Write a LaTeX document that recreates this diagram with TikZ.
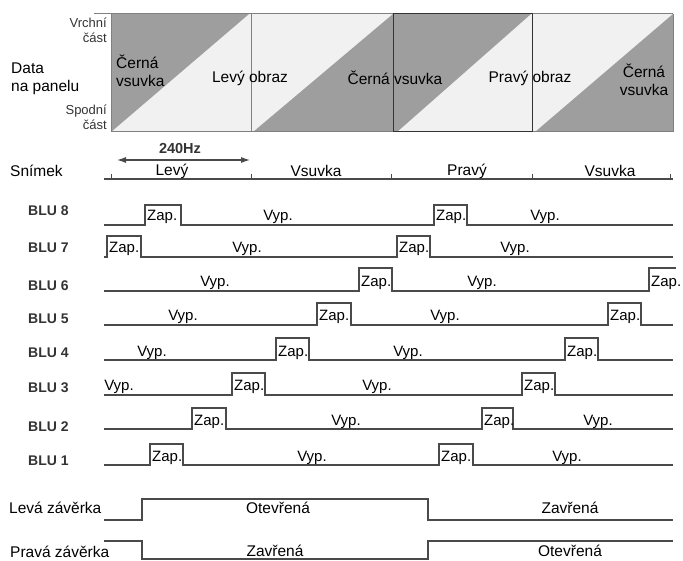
\documentclass[tikz,border=0pt]{standalone}
\usepackage{fontspec}
\setmainfont{Liberation Sans}
\usetikzlibrary{arrows.meta}
\definecolor{darkpanel}{HTML}{9E9E9E}
\definecolor{lightpanel}{HTML}{F1F1F1}
\definecolor{wavecol}{HTML}{4A4A4A}
\begin{document}
\begin{tikzpicture}[x=1pt,y=-1pt,
  wave/.style={draw=wavecol, line width=1.2pt, line join=miter},
  pline/.style={draw=black!50, line width=1pt},
  lbl/.style={font=\fontsize{15.5}{18}\selectfont, inner sep=0pt},
  small/.style={font=\fontsize{13}{15}\selectfont, inner sep=0pt, align=right, text=black!80},
  blu/.style={font=\fontsize{14}{16}\selectfont\bfseries, text=black!80, inner sep=0pt, anchor=west},
  zap/.style={font=\fontsize{15}{17}\selectfont, inner sep=0pt, anchor=base west},
  vyp/.style={font=\fontsize{15}{17}\selectfont, inner sep=0pt, anchor=base}
]
\useasboundingbox (0,0) rectangle (683,561);
% ---------- panel ----------
\fill[lightpanel] (111,14) rectangle (673,132);
\fill[darkpanel] (111,14) -- (249,14) -- (111,132) -- cycle;
\fill[darkpanel] (253,132) -- (393,14) -- (393,132) -- cycle;
\fill[darkpanel] (393,14) -- (531,14) -- (397,132) -- (393,132) -- cycle;
\fill[darkpanel] (535,132) -- (673,14) -- (673,132) -- cycle;
\draw[pline] (94,14) -- (673,14);
\draw[pline] (111,132) -- (673,132);
\draw[pline] (111,14) -- (111,132);
\draw[pline] (251,14) -- (251,132);
\draw[pline] (673,14) -- (673,132);
\draw[draw=black!80, line width=1pt] (393,14) rectangle (532,132);
\node[small, anchor=east] (vrchni) at (107,30) {Vrchní\\část};
\node[small, anchor=east] (spodni) at (107,117) {Spodní\\část};
\node[lbl, anchor=west, align=left] (data) at (11,79) {Data\\na panelu};
\node[lbl, anchor=west, align=left] (cv1) at (116,71) {Černá\\vsuvka};
\node[lbl] (lo) at (250,78) {Levý obraz};
\node[lbl] (cv2) at (395,78) {Černá vsuvka};
\node[lbl] (po) at (530,78) {Pravý obraz};
\node[lbl, align=center] (cv3) at (644,80) {Černá\\vsuvka};
% ---------- frame row ----------
\node[lbl, anchor=west] (snimek) at (10,171) {Snímek};
\coordinate (s0) at (104,179);
\coordinate (s1) at (673,179);
\draw[wave] (s0) -- (s1);
\foreach \x in {111,251,391,532,670} \draw[wave, line width=1pt] (\x,174) -- (\x,179);
\node[lbl] (levy) at (172,171) {Levý};
\node[lbl] (vs1) at (316,171) {Vsuvka};
\node[lbl] (pravy) at (467,171) {Pravý};
\node[lbl] (vs2) at (610,171) {Vsuvka};
\coordinate (a0) at (117,160);
\coordinate (a1) at (250,160);
\draw[draw=wavecol, line width=1.1pt, {Latex[length=9pt,width=6pt]}-{Latex[length=9pt,width=6pt]}] (a0) -- (a1);
\node[font=\fontsize{14.5}{16}\selectfont\bfseries, text=black!80, inner sep=0pt] (hz) at (180,149) {240Hz};
% ---------- BLU rows ----------
% BLU 8
\node[blu] (b8) at (28,211) {BLU 8};
\draw[wave] (104,225) -- (145,225) -- (145,205) -- (181,205) -- (181,225) -- (434,225) -- (434,205) -- (467,205) -- (467,225) -- (673,225);
\node[zap] (z8a) at (147,221) {Zap.};
\node[zap] (z8b) at (436,221) {Zap.};
\node[vyp] (v8a) at (278,221) {Vyp.};
\node[vyp] (v8b) at (545,221) {Vyp.};
% BLU 7
\node[blu] (b7) at (28,248) {BLU 7};
\draw[wave] (104,257) -- (107,257) -- (107,236) -- (141,236) -- (141,257) -- (397,257) -- (397,236) -- (430,236) -- (430,257) -- (673,257);
\node[zap] (z7a) at (109,253) {Zap.};
\node[zap] (z7b) at (399,253) {Zap.};
\node[vyp] (v7a) at (247,253) {Vyp.};
\node[vyp] (v7b) at (515,253) {Vyp.};
% BLU 6
\node[blu] (b6) at (28,286) {BLU 6};
\draw[wave] (104,291) -- (359,291) -- (359,268) -- (392,268) -- (392,291) -- (649,291) -- (649,268) -- (676,268);
\node[zap] (z6a) at (361,287) {Zap.};
\node[zap] (z6b) at (651,287) {Zap.};
\node[vyp] (v6a) at (215,287) {Vyp.};
\node[vyp] (v6b) at (482,287) {Vyp.};
% BLU 5
\node[blu] (b5) at (28,319) {BLU 5};
\draw[wave] (104,325) -- (317,325) -- (317,303) -- (351,303) -- (351,325) -- (608,325) -- (608,303) -- (641,303) -- (641,325) -- (673,325);
\node[zap] (z5a) at (319,321) {Zap.};
\node[zap] (z5b) at (610,321) {Zap.};
\node[vyp] (v5a) at (183,321) {Vyp.};
\node[vyp] (v5b) at (445,321) {Vyp.};
% BLU 4
\node[blu] (b4) at (28,353) {BLU 4};
\draw[wave] (104,360) -- (276,360) -- (276,338) -- (309,338) -- (309,360) -- (565,360) -- (565,338) -- (598,338) -- (598,360) -- (673,360);
\node[zap] (z4a) at (278,356) {Zap.};
\node[zap] (z4b) at (567,356) {Zap.};
\node[vyp] (v4a) at (152,356) {Vyp.};
\node[vyp] (v4b) at (408,356) {Vyp.};
% BLU 3
\node[blu] (b3) at (28,388) {BLU 3};
\draw[wave] (104,395) -- (232,395) -- (232,373) -- (265,373) -- (265,395) -- (522,395) -- (522,373) -- (555,373) -- (555,395) -- (673,395);
\node[zap] (z3a) at (234,391) {Zap.};
\node[zap] (z3b) at (524,391) {Zap.};
\node[vyp] (v3a) at (119,391) {Vyp.};
\node[vyp] (v3b) at (377,391) {Vyp.};
% BLU 2
\node[blu] (b2) at (28,427) {BLU 2};
\draw[wave] (104,429) -- (192,429) -- (192,408) -- (226,408) -- (226,429) -- (482,429) -- (482,408) -- (513,408) -- (513,429) -- (673,429);
\node[zap] (z2a) at (194,425) {Zap.};
\node[zap] (z2b) at (484,425) {Zap.};
\node[vyp] (v2a) at (346,425) {Vyp.};
\node[vyp] (v2b) at (598,425) {Vyp.};
% BLU 1
\node[blu] (b1) at (28,461) {BLU 1};
\draw[wave] (104,465) -- (150,465) -- (150,444) -- (183,444) -- (183,465) -- (439,465) -- (439,444) -- (473,444) -- (473,465) -- (673,465);
\node[zap] (z1a) at (152,461) {Zap.};
\node[zap] (z1b) at (441,461) {Zap.};
\node[vyp] (v1a) at (312,461) {Vyp.};
\node[vyp] (v1b) at (567,461) {Vyp.};
% ---------- shutters ----------
\node[lbl, anchor=west] (leva) at (9,508) {Levá závěrka};
\draw[wave] (104,520) -- (142,520) -- (142,499) -- (428,499) -- (428,520) -- (673,520);
\node[lbl] (ot1) at (278,508) {Otevřená};
\node[lbl] (za1) at (570,508) {Zavřená};
\node[lbl, anchor=west] (prava) at (10,552) {Pravá závěrka};
\draw[wave] (104,541) -- (142,541) -- (142,559) -- (428,559) -- (428,541) -- (673,541);
\node[lbl] (za2) at (275,551) {Zavřená};
\node[lbl] (ot2) at (570,551) {Otevřená};
\end{tikzpicture}
\end{document}
